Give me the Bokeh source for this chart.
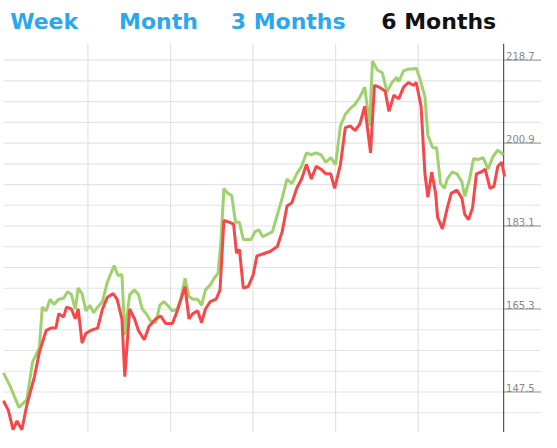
from bokeh.core.properties import value
from bokeh.embed import file_html
from bokeh.models import ColumnDataSource, Range1d
from bokeh.plotting import figure
from bokeh.resources import INLINE

#-- data (x = trading-day position, y = price)
green_x = [0, 7, 16, 24, 30, 37, 40, 44, 48, 52, 57, 62, 66, 70, 74, 77, 81, 85, 89, 93, 97, 102,
           107, 114, 118, 122, 125, 130, 135, 139, 143, 147, 152, 157, 161, 165, 169, 174, 179,
           183, 187, 191, 195, 200, 204, 208, 213, 217, 221, 224, 227, 231, 235, 239, 243, 247,
           251, 255, 259, 263, 267, 277, 287, 292, 297, 302, 307, 312, 317, 322, 327, 332, 337,
           342, 347, 352, 357, 362, 367, 372, 377, 380, 385, 390, 395, 400, 405, 407, 412, 417,
           422, 425, 429, 434, 437, 442, 446, 450, 454, 457, 462, 467, 472, 475, 480, 484, 489,
           494, 499, 504, 509, 515]
green_y = [151.6, 148.7, 144.2, 145.8, 153.9, 157.0, 165.7, 164.9, 167.4, 166.3, 167.4, 167.6,
           169.0, 168.4, 165.3, 169.8, 168.6, 164.9, 166.1, 164.5, 165.7, 166.9, 171.1, 174.6,
           172.5, 172.7, 159.7, 168.4, 169.4, 168.4, 165.3, 164.3, 162.6, 162.4, 166.1, 166.9,
           166.1, 164.9, 165.3, 167.8, 171.9, 168.0, 167.4, 167.4, 166.1, 169.4, 170.5, 171.9,
           173.0, 179.8, 191.2, 190.1, 189.7, 183.9, 183.9, 180.2, 180.2, 180.2, 181.9, 182.3,
           180.8, 181.9, 189.1, 193.2, 192.2, 194.3, 195.9, 198.8, 198.4, 198.8, 198.4, 196.8,
           197.8, 196.3, 204.6, 207.1, 208.3, 209.2, 210.8, 212.9, 204.6, 218.5, 216.6, 216.0,
           211.9, 213.9, 215.0, 214.1, 216.4, 216.8, 216.8, 217.0, 214.6, 210.8, 202.6, 199.9,
           199.9, 192.2, 191.2, 193.2, 194.7, 194.3, 192.6, 189.5, 193.2, 197.6, 197.4, 197.8,
           195.3, 198.0, 199.4, 198.4]

red_x = [0, 5, 10, 14, 19, 24, 32, 37, 44, 49, 54, 57, 62, 65, 70, 74, 77, 81, 85, 90, 97, 102,
         107, 113, 117, 122, 125, 130, 135, 139, 145, 150, 157, 162, 167, 174, 179, 187, 191, 195,
         200, 204, 208, 213, 219, 223, 227, 233, 237, 240, 243, 247, 252, 257, 261, 267, 275, 282,
         287, 292, 297, 302, 307, 312, 317, 322, 327, 332, 337, 341, 347, 352, 357, 362, 367, 372,
         378, 382, 387, 393, 397, 402, 407, 412, 417, 422, 425, 430, 434, 437, 441, 445, 447,
         452, 457, 461, 467, 472, 475, 479, 483, 487, 492, 496, 501, 505, 509, 513, 516]
red_y = [145.6, 143.6, 139.4, 141.3, 139.4, 144.6, 150.8, 156.0, 160.7, 161.2, 161.2, 164.3,
         163.6, 165.7, 165.3, 163.2, 165.3, 158.0, 160.1, 160.7, 161.2, 165.3, 167.8, 168.6,
         167.4, 163.2, 150.8, 165.3, 163.2, 160.7, 158.7, 161.6, 163.2, 163.8, 162.2, 162.2,
         164.9, 170.1, 163.2, 164.3, 164.9, 162.4, 165.3, 166.9, 167.4, 169.4, 184.3, 183.9,
         183.5, 177.3, 178.1, 169.8, 170.1, 172.5, 176.7, 177.1, 177.7, 178.7, 181.9, 187.4,
         188.1, 191.2, 193.2, 196.3, 193.2, 195.9, 195.3, 194.3, 194.3, 191.2, 196.3, 204.2,
         204.6, 203.6, 205.0, 208.8, 198.8, 213.3, 212.9, 212.1, 207.7, 211.2, 210.4, 212.9,
         213.9, 213.3, 213.9, 208.8, 194.3, 189.3, 194.7, 190.1, 185.0, 182.5, 187.0, 190.1,
         190.8, 189.1, 185.6, 184.5, 187.0, 194.3, 194.7, 195.3, 191.2, 191.6, 195.9, 196.8, 193.7]

grid_y = [143.05, 147.5, 151.95, 156.4, 160.85, 165.3, 169.75, 174.2, 178.65, 183.1, 187.55,
          192.0, 196.45, 200.9, 205.35, 209.8, 214.25, 218.7]
tick_labels = ["147.5", "165.3", "183.1", "200.9", "218.7"]
tick_values = [147.5, 165.3, 183.1, 200.9, 218.7]
grid_x = [87, 172, 257, 342, 427]
periods = ["Week", "Month", "3 Months", "6 Months"]
period_x = [7, 119, 234, 389]
period_colors = ["#2aa8ef", "#2aa8ef", "#2aa8ef", "#111111"]

p = figure(width=541, height=432, output_backend="svg", toolbar_location=None,
           x_range=Range1d(-3, 554), y_range=Range1d(138.8, 231.5), min_border=0)
p.axis.visible = False
p.grid.visible = False
p.outline_line_color = None

top = 222.2
#-- grid
p.segment(x0=0, x1=554, y0=grid_y, y1=grid_y, line_color="#e4e4e4", line_width=1.1)
p.segment(x0=515, x1=554, y0=tick_values, y1=tick_values, line_color="#999999", line_width=1)
p.segment(x0=grid_x, x1=grid_x, y0=138.8, y1=top, line_color="#e2e2e2", line_width=1.2)
p.segment(x0=[515], x1=[515], y0=[138.8], y1=[top], line_color="#555555", line_width=1.2)

#-- price lines
p.line(green_x, green_y, line_color="#9fd26c", line_width=3)
p.line(red_x, red_y, line_color="#f6484a", line_width=3)

#-- right-hand labels
lab = ColumnDataSource(data=dict(x=[547] * len(tick_values), y=tick_values, t=tick_labels))
p.text(x="x", y="y", text="t", source=lab, text_align="right", text_baseline="bottom",
       text_font=value("DejaVu Sans"), text_font_size="10px", text_color="#888888")

#-- period selector
hdr = ColumnDataSource(data=dict(x=period_x, y=[227.0] * 4, t=periods, c=period_colors))
p.text(x="x", y="y", text="t", source=hdr, text_color="c", text_baseline="middle",
       text_font=value("DejaVu Sans"), text_font_style="bold", text_font_size="22px")

open("out.html", "w").write(file_html(p, INLINE))
